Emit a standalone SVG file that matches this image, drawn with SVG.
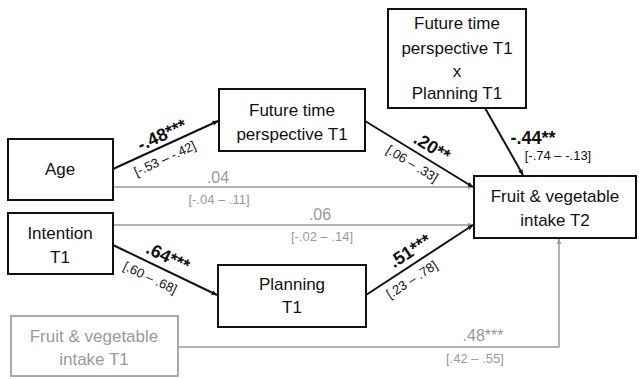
<svg xmlns="http://www.w3.org/2000/svg" width="639" height="379" viewBox="0 0 639 379">
<defs>
<marker id="ab" viewBox="0 0 10 10" refX="9" refY="5" markerWidth="6" markerHeight="6" orient="auto" markerUnits="userSpaceOnUse"><path d="M0,1 L10,5 L0,9 z" fill="#111"/></marker>
<marker id="ag" viewBox="0 0 10 10" refX="9" refY="5" markerWidth="6" markerHeight="6" orient="auto" markerUnits="userSpaceOnUse"><path d="M0,1 L10,5 L0,9 z" fill="#999"/></marker>
<style>
.box{fill:#fff;stroke:#111;stroke-width:2}
.gbox{fill:#fff;stroke:#aaa;stroke-width:2}
.t{font-family:"Liberation Sans",Arial,sans-serif;font-size:17px;fill:#111;text-anchor:middle}
.gt{font-family:"Liberation Sans",Arial,sans-serif;font-size:17px;fill:#999;text-anchor:middle}
.b{stroke:#111;stroke-width:2;fill:none;marker-end:url(#ab)}
.g{stroke:#999;stroke-width:1.5;fill:none;marker-end:url(#ag)}
.lb{font-family:"Liberation Sans",Arial,sans-serif;font-size:18px;font-weight:bold;fill:#111;text-anchor:middle}
.lg{font-family:"Liberation Sans",Arial,sans-serif;font-size:16px;fill:#999;text-anchor:middle}
.cb{font-family:"Liberation Sans",Arial,sans-serif;font-size:13px;fill:#111;text-anchor:middle}
.cg{font-family:"Liberation Sans",Arial,sans-serif;font-size:13px;fill:#999;text-anchor:middle}
</style>
</defs>
<rect width="639" height="379" fill="#fff"/>
<g id="connectors">
<line class="b" x1="113" y1="169" x2="218" y2="121"/>
<line class="g" x1="113" y1="187" x2="473" y2="187"/>
<line class="b" x1="365" y1="121" x2="473" y2="187"/>
<line class="b" x1="485" y1="108" x2="523" y2="175"/>
<line class="g" x1="113" y1="225" x2="473" y2="225"/>
<line class="b" x1="113" y1="245" x2="217" y2="295"/>
<line class="b" x1="366" y1="295" x2="473" y2="225"/>
<polyline class="g" points="178,347 559,347 559,239"/>
<g transform="translate(162,135) rotate(-24.6)"><text class="lb" x="0" y="6">-.48***</text></g>
<g transform="translate(165,159) rotate(-24.6)"><text class="cb" x="0" y="4">[-.53 – -.42]</text></g>
<text class="lg" x="218" y="183">.04</text>
<text class="cg" x="219" y="204">[-.04 – .11]</text>
<g transform="translate(432,147) rotate(31.6)"><text class="lb" x="0" y="6">.20**</text></g>
<g transform="translate(412,164) rotate(31.6)"><text class="cb" x="0" y="4">[.06 – .33]</text></g>
<text class="lb" x="533" y="144">-.44**</text>
<text class="cb" x="558" y="160">[-.74 – -.13]</text>
<text class="lg" x="320" y="220">.06</text>
<text class="cg" x="322" y="241">[-.02 – .14]</text>
<g transform="translate(168,257) rotate(25.5)"><text class="lb" x="0" y="6">.64***</text></g>
<g transform="translate(150,278) rotate(25.5)"><text class="cb" x="0" y="4">[.60 – .68]</text></g>
<g transform="translate(410,251) rotate(-33)"><text class="lb" x="0" y="6">.51***</text></g>
<g transform="translate(412,280) rotate(-33)"><text class="cb" x="0" y="4">[.23 – .78]</text></g>
<text class="lg" x="483" y="341">.48***</text>
<text class="cg" x="475" y="363">[.42 – .55]</text>
</g>
<g id="age"><rect class="box" x="8" y="139" width="105" height="61"/><text class="t" x="60" y="175">Age</text></g>
<g id="ftp"><rect class="box" x="219" y="89" width="146" height="62"/><text class="t" x="292" y="116">Future time</text><text class="t" x="292" y="140">perspective T1</text></g>
<g id="interaction"><rect class="box" x="388" y="9" width="138" height="99"/><text class="t" x="457" y="29">Future time</text><text class="t" x="457" y="54">perspective T1</text><text class="t" x="457" y="77">x</text><text class="t" x="457" y="99">Planning T1</text></g>
<g id="fv2"><rect class="box" x="474" y="176" width="162" height="62"/><text class="t" x="555" y="202">Fruit &amp; vegetable</text><text class="t" x="555" y="226">intake T2</text></g>
<g id="intention"><rect class="box" x="8" y="213" width="105" height="61"/><text class="t" x="60" y="239">Intention</text><text class="t" x="60" y="263">T1</text></g>
<g id="planning"><rect class="box" x="218" y="265" width="148" height="62"/><text class="t" x="292" y="290">Planning</text><text class="t" x="292" y="313">T1</text></g>
<g id="fv1"><rect class="gbox" x="11" y="316" width="167" height="60"/><text class="gt" x="94" y="342">Fruit &amp; vegetable</text><text class="gt" x="94" y="365">intake T1</text></g>
</svg>
